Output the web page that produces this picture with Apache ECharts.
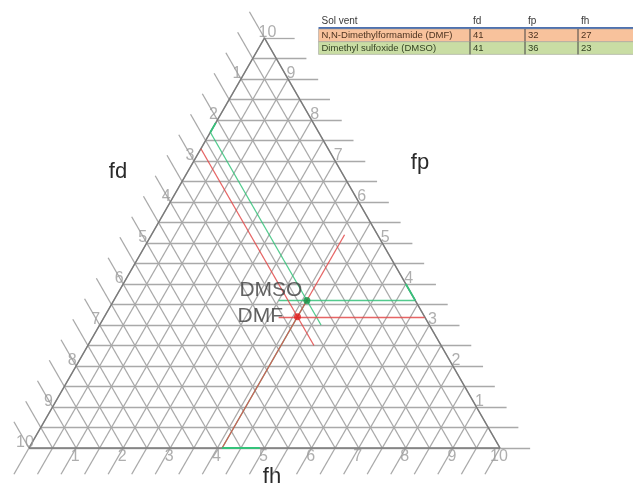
<!DOCTYPE html>
<html><head><meta charset="utf-8">
<script src="https://cdn.jsdelivr.net/npm/echarts@6/dist/echarts.min.js"></script>
<style>html,body{margin:0;padding:0;background:#fff}#c{width:633px;height:486px}</style>
</head><body><div id="c"></div>
<script>
// ---- data (percent) ----
const solventNames = ['N,N-Dimethylformamide (DMF)', 'Dimethyl sulfoxide (DMSO)'];
const solventShort = ['DMF', 'DMSO'];
const fdValues = [41, 41];
const fpValues = [32, 36];
const fhValues = [27, 23];
const tableHeader = ['Sol vent', 'fd', 'fp', 'fh'];
const tickLabels = ['1', '2', '3', '4', '5', '6', '7', '8', '9', '10'];
const axisTitles = ['fd', 'fp', 'fh'];
// guide line extents (percent)
const hLineStart = [37, 35];   // horizontal guide begins at this bottom-axis value
const descLineEnd = [25, 30];  // '\' guide ends at this height value
const ascLineEnd = [52, 36];   // '/' guide ends at this height value
// green highlight ranges along the edges (percent)
const baseHighlight = [41, 49];
const rightHighlight = [36, 40];
const leftHighlight = [20.7, 23];

// ---- styling ----
const lineColors = ['#e24a4a', '#35c27a'];
const dotColors = ['#e01f1f', '#0f9445'];
const EXT = 0.064;

// ternary (bottom b, height h) -> cartesian axis units
function pt(b, h) { return [b + h / 2, h]; }

const gridSegs = [];
for (let k = 0; k <= 20; k++) {
  const v = k / 20;
  gridSegs.push({ coords: [pt(0, v), pt(1 - v + EXT, v)] });
  gridSegs.push({ coords: [pt(-EXT, 1 - v + EXT), pt(1 - v, 0)] });
  gridSegs.push({ coords: [pt(v, -EXT), pt(v, 1 - v)] });
}
const edgeSegs = [
  { coords: [pt(0, 0), pt(1, 0)] },
  { coords: [pt(1, 0), pt(0, 1)] },
  { coords: [pt(0, 1), pt(0, 0)] }
];

const series = [
  { type: 'lines', coordinateSystem: 'cartesian2d', polyline: false, clip: false, silent: true, z: 1,
    lineStyle: { color: '#a9a9a9', width: 1.3, opacity: 1 }, data: gridSegs },
  { type: 'lines', coordinateSystem: 'cartesian2d', polyline: false, clip: false, silent: true, z: 2,
    lineStyle: { color: '#7a7a7a', width: 1.5, opacity: 1 }, data: edgeSegs }
];

// guide lines (green first, red on top)
[1, 0].forEach(i => {
  const b = fdValues[i] / 100, h = fpValues[i] / 100, l = fhValues[i] / 100;
  const segs = [
    { coords: [pt(hLineStart[i] / 100, h), pt(1 - h, h)] },
    { coords: [pt(0, 1 - l), pt(1 - l - descLineEnd[i] / 100, descLineEnd[i] / 100)] },
    { coords: [pt(b, 0), pt(b, ascLineEnd[i] / 100)] }
  ];
  series.push({ type: 'lines', coordinateSystem: 'cartesian2d', polyline: false, clip: false, silent: true, z: 3,
    lineStyle: { color: lineColors[i], width: 1.3, opacity: 0.85 }, data: segs });
});
// green edge highlights
series.push({ type: 'lines', coordinateSystem: 'cartesian2d', polyline: false, clip: false, silent: true, z: 3,
  lineStyle: { color: lineColors[1], width: 1.8, opacity: 1 },
  data: [
    { coords: [pt(baseHighlight[0] / 100, 0), pt(baseHighlight[1] / 100, 0)] },
    { coords: [pt(1 - rightHighlight[0] / 100, rightHighlight[0] / 100), pt(1 - rightHighlight[1] / 100, rightHighlight[1] / 100)] },
    { coords: [pt(0, 1 - leftHighlight[0] / 100), pt(0, 1 - leftHighlight[1] / 100)] }
  ] });

// tick labels
const tickFont = { color: '#9a9a9a', fontSize: 16, fontFamily: 'Liberation Sans, Arial, sans-serif' };
const tickData = [];
tickLabels.forEach((t, idx) => {
  const v = (idx + 1) / 10;
  tickData.push({ value: pt(1 - v, v), label: { offset: [3, -5], formatter: t } });
  tickData.push({ value: pt(0, 1 - v), label: { offset: [-4, -5], formatter: t } });
  tickData.push({ value: pt(v, 0), label: { offset: [-1, 9], formatter: t } });
});
series.push({ type: 'scatter', symbolSize: 0, clip: false, silent: true, z: 4,
  label: Object.assign({ show: true, position: 'inside' }, tickFont), data: tickData });

// solvent points
series.push({ type: 'scatter', symbolSize: 7, clip: false, silent: true, z: 5,
  data: fdValues.map((d, i) => ({
    value: pt(d / 100, fpValues[i] / 100),
    itemStyle: { color: dotColors[i] },
    label: { show: true, position: 'left', formatter: solventShort[i],
      distance: i === 0 ? 11 : 1, offset: i === 0 ? [0, -1] : [0, -10],
      color: '#3f3f3f', fontSize: 21, fontFamily: 'Liberation Sans, Arial, sans-serif' }
  })) });

// table graphic
const tblFont = 'Liberation Sans, Arial, sans-serif';
const colX = [318.5, 470, 525, 578];
const rowFills = ['#f8c29c', '#c9dda4'];
const rowText = ['#4d3320', '#334222'];
const graphic = [];
tableHeader.forEach((t, c) => graphic.push({ type: 'text', left: colX[c] + 3, top: 16,
  style: { text: t, fill: '#3a3a3a', font: '10px ' + tblFont } }));
graphic.push({ type: 'rect', shape: { x: 318.5, y: 27, width: 320, height: 2 }, style: { fill: '#4e72b0' } });
solventNames.forEach((name, r) => {
  const y = 29 + r * 12.7;
  graphic.push({ type: 'rect', shape: { x: 318.5, y: y, width: 320, height: 12.7 }, style: { fill: rowFills[r], stroke: '#9a9a9a', lineWidth: 0.5 } });
  const cells = [name, String(fdValues[r]), String(fpValues[r]), String(fhValues[r])];
  cells.forEach((t, c) => graphic.push({ type: 'text', left: colX[c] + 3, top: y + 1.5,
    style: { text: t, fill: rowText[r], font: '9.5px ' + tblFont } }));
  [1, 2, 3].forEach(c => graphic.push({ type: 'line', shape: { x1: colX[c], y1: y, x2: colX[c], y2: y + 12.7 },
    style: { stroke: '#444', lineWidth: 1 } }));
});
// axis titles
const titlePos = [[118, 172], [420, 163], [272, 477]];
axisTitles.forEach((t, i) => graphic.push({ type: 'text', x: titlePos[i][0], y: titlePos[i][1],
  style: { text: t, fill: '#2a2a2a', font: '22px ' + tblFont, align: 'center', verticalAlign: 'middle' } }));

const chart = echarts.init(document.getElementById('c'), null, { renderer: 'canvas' });
chart.setOption({
  animation: false,
  backgroundColor: '#fff',
  grid: { left: 29, top: 38, width: 471, height: 410, containLabel: false, outerBoundsMode: 'none' },
  xAxis: { type: 'value', min: 0, max: 1, show: false },
  yAxis: { type: 'value', min: 0, max: 1, show: false },
  series: series,
  graphic: graphic
});
</script></body></html>
